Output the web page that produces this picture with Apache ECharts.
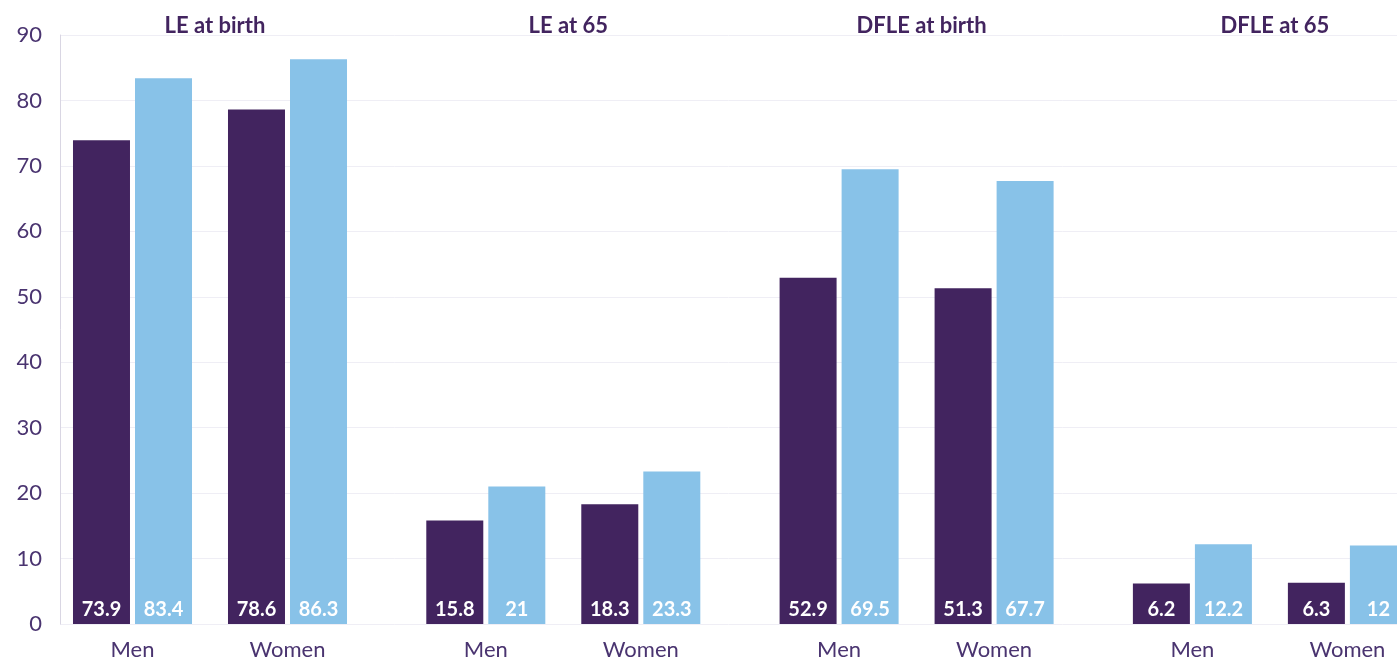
<!DOCTYPE html>
<html>
<head>
<meta charset="utf-8">
<script src="https://cdn.jsdelivr.net/npm/echarts@6/dist/echarts.min.js"></script>
<style>html,body{margin:0;padding:0;background:#fff;}#c{width:1397px;height:662px;}</style>
</head>
<body>
<div id="c"></div>
<script>
const groups = ['LE at birth', 'LE at 65', 'DFLE at birth', 'DFLE at 65'];
const sexes = ['Men', 'Women'];
const darkValues = [[73.9, 78.6], [15.8, 18.3], [52.9, 51.3], [6.2, 6.3]];
const lightValues = [[83.4, 86.3], [21, 23.3], [69.5, 67.7], [12.2, 12]];
const yMin = 0, yMax = 90, yStep = 10;

const DARK = '#42245f', LIGHT = '#88c2e8', TXT = '#4a3470';
const FONT = 'Lato, "Noto Sans", sans-serif';
const TOP = 35, BOTTOM = 38, GW = 310, G0 = 55, GSTEP = 353.3;

const grid = [{left: 60, right: 0, top: TOP, bottom: BOTTOM, outerBoundsMode: 'none'}];
const xAxis = [{gridIndex: 0, type: 'category', data: [''], show: false}];
const yAxis = [{
  gridIndex: 0, type: 'value', min: yMin, max: yMax, interval: yStep,
  axisLine: {show: true, lineStyle: {color: '#d9d6e3', width: 1}},
  axisTick: {show: false},
  splitLine: {lineStyle: {color: '#efeef5', width: 1}},
  axisLabel: {color: TXT, fontSize: 22, fontFamily: FONT, margin: 18}
}];
const series = [];
const title = [];
groups.forEach((g, i) => {
  const left = G0 + i * GSTEP;
  grid.push({left: left, width: GW, top: TOP, bottom: BOTTOM, outerBoundsMode: 'none', containLabel: false});
  xAxis.push({
    gridIndex: i + 1, type: 'category', data: sexes,
    axisLine: {show: false}, axisTick: {show: false},
    axisLabel: {color: TXT, fontSize: 22, fontFamily: FONT, margin: 15}
  });
  yAxis.push({gridIndex: i + 1, type: 'value', min: yMin, max: yMax, interval: yStep, show: false, splitLine: {show: false}});
  const lab = {show: true, position: 'insideBottom', distance: 4, color: '#fff', fontWeight: 'bold', fontSize: 20, fontFamily: FONT};
  series.push({type: 'bar', name: 'A', xAxisIndex: i + 1, yAxisIndex: i + 1, data: darkValues[i], barWidth: 57, barGap: '8.8%', itemStyle: {color: DARK}, label: lab});
  series.push({type: 'bar', name: 'B', xAxisIndex: i + 1, yAxisIndex: i + 1, data: lightValues[i], barWidth: 57, barGap: '8.8%', itemStyle: {color: LIGHT}, label: lab});
  title.push({text: g, left: left + GW / 2, top: 10, textAlign: 'center',
    textStyle: {color: DARK, fontSize: 22, fontWeight: 'bold', fontFamily: FONT}});
});

const chart = echarts.init(document.getElementById('c'));
chart.setOption({animation: false, title, grid, xAxis, yAxis, series});
</script>
</body>
</html>
